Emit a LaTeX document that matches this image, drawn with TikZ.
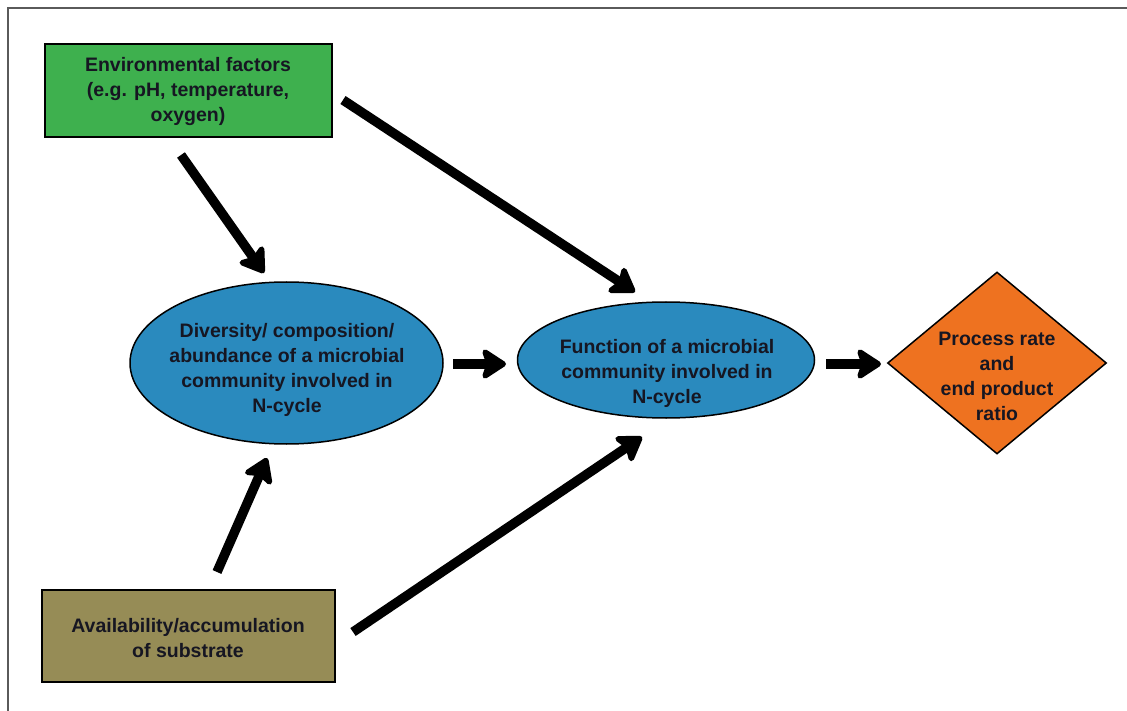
\documentclass[tikz,border=0pt]{standalone}
\usepackage{fontspec}
\setmainfont{Liberation Sans}
\usetikzlibrary{shapes.geometric,arrows.meta}
\definecolor{envgreen}{RGB}{62,176,78}
\definecolor{subolive}{RGB}{150,140,86}
\definecolor{ellblue}{RGB}{42,138,190}
\definecolor{diaorange}{RGB}{238,114,32}
\definecolor{txt}{RGB}{22,22,34}
\definecolor{framegray}{RGB}{90,90,90}
\begin{document}
\begin{tikzpicture}[x=1pt,y=-1pt,
  lbl/.style={font=\fontsize{19.5}{25}\selectfont\bfseries, text=txt, align=center, inner sep=0pt},
  boxnode/.style={draw=black, line width=1.5pt, inner sep=0pt},
  ellnode/.style={ellipse, draw=black, line width=1.5pt, fill=ellblue, inner sep=0pt},
  bigarrow/.style={line width=9.5pt, -{Stealth[length=28pt,width=36pt,inset=6pt,round]}}
]
\useasboundingbox (0,0) rectangle (1127,711);
\draw[framegray, line width=2pt] (8,711) -- (8,8) -- (1127,8);

\node[boxnode, fill=envgreen, minimum width=287pt, minimum height=93pt] (env) at (188.5,90.5) {};
\node[lbl] (envt) at (188,92) {Environmental factors\\(e.g. pH, temperature,\\oxygen)};
\node[boxnode, fill=subolive, minimum width=293pt, minimum height=92pt] (sub) at (188.5,636) {};
\node[lbl] (subt) at (188,638) {Availability/accumulation\\of substrate};
\node[ellnode, minimum width=313pt, minimum height=162pt] (div) at (286.5,363) {};
\node[lbl] (divt) at (287,370) {Diversity/ composition/\\abundance of a microbial\\community involved in\\N-cycle};
\node[ellnode, minimum width=297pt, minimum height=116pt] (fun) at (666,360) {};
\node[lbl] (funt) at (667,373) {Function of a microbial\\community involved in\\N-cycle};
\node[diamond, draw=black, line width=1.5pt, fill=diaorange, minimum width=219pt, minimum height=182pt, inner sep=0pt] (pro) at (997,363) {};
\node[lbl] (prot) at (997,376) {Process rate\\and\\end product\\ratio};

\coordinate (a1s) at (181,155); \coordinate (a1e) at (264,273);
\coordinate (a2s) at (343,100); \coordinate (a2e) at (635,292);
\coordinate (a3s) at (453,364); \coordinate (a3e) at (506,364);
\coordinate (a4s) at (826,364); \coordinate (a4e) at (881,364);
\coordinate (a5s) at (217,572); \coordinate (a5e) at (267,458);
\coordinate (a6s) at (353,632); \coordinate (a6e) at (642,437);

\draw[bigarrow] (a1s) -- (a1e);
\draw[bigarrow] (a2s) -- (a2e);
\draw[bigarrow] (a3s) -- (a3e);
\draw[bigarrow] (a4s) -- (a4e);
\draw[bigarrow] (a5s) -- (a5e);
\draw[bigarrow] (a6s) -- (a6e);
\end{tikzpicture}
\end{document}
